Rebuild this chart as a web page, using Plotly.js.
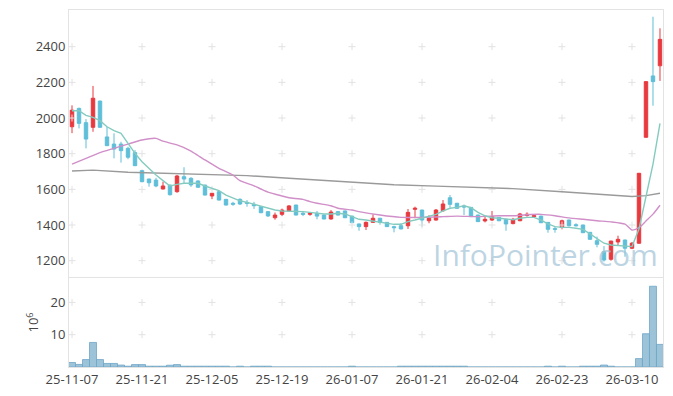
<!DOCTYPE html>
<html>
<head>
<meta charset="utf-8">
<script src="https://cdn.plot.ly/plotly-3.0.1.min.js"></script>
<style>html,body{margin:0;padding:0;background:#fff;}#chart{width:673px;height:396px;}</style>
</head>
<body>
<div id="chart"></div>
<script>
// Trading-day index positions of tick labels and their texts
const tickIndex = [0, 10, 20, 30, 40, 50, 60, 70, 80];
const tickLabels = ['25-11-07','25-11-21','25-12-05','25-12-19','26-01-07','26-01-21','26-02-04','26-02-23','26-03-10'];

const openP = [1951,2054,1974,1948,2095,1894,1854,1854,1830,1806,
1705,1658,1652,1602,1624,1587,1671,1662,1647,1624,
1563,1587,1544,1522,1544,1527,1516,1503,1475,1441,
1460,1479,1512,1466,1460,1466,1456,1434,1475,1479,
1450,1406,1391,1415,1438,1415,1391,1396,1396,1488,
1484,1424,1428,1480,1553,1522,1507,1499,1456,1423,
1428,1443,1432,1408,1424,1454,1447,1450,1415,1380,
1387,1428,1402,1400,1359,1312,1250,1208,1305,1316,
1270,1298,1892,2236,2293];

const highP = [2071,2058,1994,2180,2098,1951,1914,1867,1839,1820,
1710,1660,1665,1643,1626,1681,1724,1668,1650,1626,
1580,1590,1546,1530,1550,1540,1530,1505,1478,1470,
1492,1512,1514,1479,1472,1479,1458,1484,1478,1481,
1452,1408,1420,1460,1440,1417,1396,1410,1490,1503,
1486,1455,1490,1540,1568,1524,1515,1501,1458,1445,
1479,1445,1434,1440,1468,1471,1460,1452,1417,1393,
1430,1430,1410,1402,1361,1335,1282,1312,1340,1318,
1305,1692,2206,2568,2503];

const lowP = [1915,1942,1830,1923,1945,1843,1774,1750,1769,1730,
1640,1615,1612,1600,1565,1581,1634,1614,1608,1566,
1545,1538,1510,1508,1512,1503,1490,1467,1445,1430,
1450,1477,1454,1450,1452,1432,1432,1430,1454,1439,
1411,1368,1372,1413,1402,1389,1359,1376,1378,1438,
1391,1410,1425,1475,1497,1490,1456,1445,1417,1415,
1423,1422,1368,1404,1422,1447,1441,1411,1357,1357,
1376,1392,1392,1355,1318,1275,1195,1200,1288,1222,
1265,1295,1890,2069,2208];

const closeP = [2044,1970,1882,2111,1948,1845,1826,1817,1780,1733,
1643,1637,1619,1619,1570,1675,1658,1625,1612,1568,
1578,1540,1512,1517,1518,1522,1508,1469,1451,1456,
1484,1507,1456,1460,1466,1450,1434,1473,1456,1441,
1413,1391,1415,1438,1415,1391,1385,1378,1471,1494,
1428,1438,1484,1518,1516,1494,1501,1447,1419,1432,
1447,1424,1406,1432,1462,1460,1452,1413,1376,1376,
1424,1396,1396,1357,1320,1292,1204,1310,1320,1270,
1298,1690,2204,2204,2441];

// volume in millions
const volume = [1.4,0.8,2.3,7.6,2.3,1.1,1.1,0.6,0.25,0.75,
0.75,0.25,0.25,0.25,0.55,0.75,0.25,0.25,0.25,0.25,
0.25,0.25,0.25,0,0.25,0,0.25,0.25,0.25,
0,0,0,0,0,0,0,0,0,0,0,
0.25,
0,0,0,0,0,0,
0.25,0.25,0.25,0.25,0.25,0.25,0.25,0.25,0.25,0.25,
0,0,0,0,0,0,0,0,0,0,0,
0.25,0,0.25,0,0,
0.25,0.25,0.25,
0.6,0.25,
0,0,0,
2.6,10.3,25,7.0];

// moving averages
const ma5 = [2041,2041,2015,2004,1985,1951,1929,1914,1858,1802,
1755,1718,1680,1649,1619,1628,1634,1634,1634,1619,
1606,1593,1568,1550,1536,1527,1516,1507,1494,1484,
1479,1479,1479,1475,1471,1466,1462,1462,1466,1462,
1447,1432,1428,1423,1415,1410,1404,1404,1419,1428,
1438,1447,1460,1479,1494,1499,1508,1497,1471,1452,
1441,1438,1434,1430,1438,1443,1443,1428,1406,1391,
1387,1387,1382,1376,1350,1326,1298,1288,1284,1279,
1279,1378,1559,1742,1970];

const ma20Idx = [0,2,4,6,8,10,12,13,15,17,18,19,21,23,24,26,27,28,30,31,33,34,35,37,38,40,41,44,47,50,53,55,58,61,63,65,67,69,71,73,75,77,79,80,81,82,83,84];
const ma20 = [1742,1774,1806,1830,1854,1877,1886,1870,1849,1815,1790,1765,1718,1680,1649,1620,1602,1585,1563,1553,1544,1531,1522,1508,1494,1484,1475,1456,1443,1443,1447,1450,1447,1452,1452,1458,1460,1452,1440,1432,1424,1418,1405,1372,1385,1423,1461,1511];

const ma60Idx = [0,3,8,13,17,21,25,31,37,42,46,52,58,63,70,75,80,82,84];
const ma60 = [1703,1708,1696,1690,1686,1682,1677,1662,1649,1638,1626,1618,1612,1604,1587,1572,1560,1565,1578];

const priceTicks = [1200,1400,1600,1800,2000,2200,2400];
const volTicks = [10,20];

const idx = closeP.map((_, i) => i);
const upColor = '#e8393f', downColor = '#5fbed8';

// grid crosses at tick intersections
const crossX = [], crossY = [], crossX2 = [], crossY2 = [];
tickIndex.forEach(t => {
  priceTicks.forEach(p => { crossX.push(t); crossY.push(p); });
  volTicks.forEach(v => { crossX2.push(t); crossY2.push(v); });
});

const traces = [
  {type:'scatter', mode:'markers', x:crossX, y:crossY, xaxis:'x', yaxis:'y', hoverinfo:'skip',
   marker:{symbol:'cross-thin', size:5, line:{color:'#e2e2e2', width:1}}},
  {type:'scatter', mode:'markers', x:crossX2, y:crossY2, xaxis:'x2', yaxis:'y2', hoverinfo:'skip',
   marker:{symbol:'cross-thin', size:5, line:{color:'#e2e2e2', width:1}}},
  {type:'scatter', mode:'lines', x:ma60Idx, y:ma60, xaxis:'x', yaxis:'y',
   line:{color:'#9a9a9a', width:1.4}, hoverinfo:'skip'},
  {type:'scatter', mode:'lines', x:ma20Idx, y:ma20, xaxis:'x', yaxis:'y',
   line:{color:'#d08fc8', width:1.4, shape:'spline', smoothing:0.6}, hoverinfo:'skip'},
  {type:'scatter', mode:'lines', x:idx, y:ma5, xaxis:'x', yaxis:'y',
   line:{color:'#84cbbf', width:1.4}, hoverinfo:'skip'},
  {type:'candlestick', x:idx, open:openP, high:highP, low:lowP, close:closeP, xaxis:'x', yaxis:'y',
   increasing:{line:{color:upColor, width:1}, fillcolor:upColor},
   decreasing:{line:{color:downColor, width:1}, fillcolor:downColor},
   whiskerwidth:0},
  {type:'bar', x:idx, y:volume, xaxis:'x2', yaxis:'y2',
   marker:{color:'rgba(140,185,210,0.85)', line:{color:'#6ea6c8', width:0.8}}}
];

const axisLine = '#e3e3e3';
const layout = {
  width:673, height:396,
  margin:{l:69, r:10, t:10, b:29},
  paper_bgcolor:'#ffffff', plot_bgcolor:'#ffffff',
  showlegend:false,
  bargap:0,
  font:{family:'Open Sans, Noto Sans, sans-serif', size:13, color:'#444'},
  xaxis:{domain:[0,1], anchor:'y', range:[-0.43,84.43], showticklabels:false, ticks:'',
         showgrid:false, zeroline:false, showline:true, mirror:true, linecolor:axisLine, linewidth:1,
         rangeslider:{visible:false}, fixedrange:true},
  yaxis:{domain:[0.2521,1], anchor:'x', range:[1108.6,2605.7], tickvals:priceTicks, ticks:'',
         showgrid:false, zeroline:false, showline:true, mirror:true, linecolor:axisLine, linewidth:1,
         tickfont:{size:13, color:'#444'}},
  xaxis2:{domain:[0,1], anchor:'y2', matches:'x', range:[-0.43,84.43], tickvals:tickIndex, ticktext:tickLabels,
          ticks:'', showgrid:false, zeroline:false, showline:true, mirror:true, linecolor:axisLine, linewidth:1,
          tickfont:{size:13, color:'#444'}},
  yaxis2:{domain:[0,0.2493], anchor:'x2', range:[0,27.55], tickvals:volTicks, ticks:'',
          showgrid:false, zeroline:false, showline:true, mirror:true, linecolor:axisLine, linewidth:1,
          tickfont:{size:13, color:'#444'},
          title:{text:'10<sup>6</sup>', font:{size:13, color:'#444'}, standoff:8}},
  annotations:[{text:'InfoPointer.com', xref:'paper', yref:'paper', x:0.803, y:0.314,
    xanchor:'center', yanchor:'middle', showarrow:false,
    font:{family:'Open Sans, sans-serif', size:30, color:'rgba(160,194,214,0.7)'}}]
};

Plotly.newPlot('chart', traces, layout, {staticPlot:true, displayModeBar:false});
</script>
</body>
</html>
